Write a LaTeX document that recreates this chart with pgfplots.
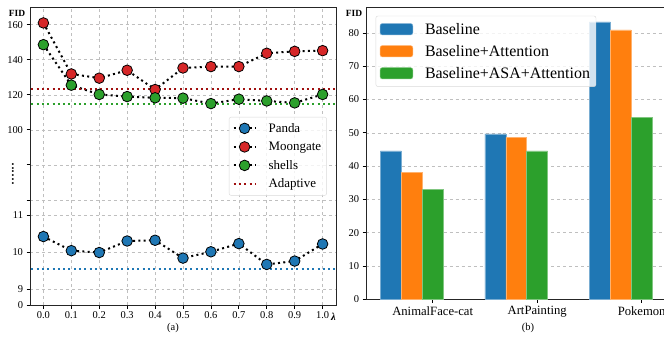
\documentclass[border=0pt]{standalone}
\usepackage{pgfplots}
\pgfplotsset{compat=1.18}
\usepackage{fontspec}
\setmainfont{Liberation Serif}
\definecolor{c0}{HTML}{1F77B4}
\definecolor{c1}{HTML}{FF7F0E}
\definecolor{c2}{HTML}{2CA02C}
\definecolor{c3}{HTML}{D62728}
\definecolor{dred}{HTML}{A01010}
\begin{document}
\begin{tikzpicture}
\path[use as bounding box] (0,0) rectangle (664bp,337bp);
% ---------------- left chart ----------------
\begin{axis}[
  at={(30bp,32bp)}, anchor=south west,
  width=306bp, height=298bp, scale only axis,
  xmin=-0.048, xmax=1.048, ymin=0, ymax=170.09,
  y coord trafo/.code={\pgfmathparse{ifthenelse(#1<5,#1*15.7/9,ifthenelse(#1<50,15.7+(#1-9)*37.2,175.3+(#1-100)*1.755))}},
  xtick={0,0.1,0.2,0.3,0.4,0.5,0.6,0.7,0.8,0.9,1},
  xticklabels={0.0,0.1,0.2,0.3,0.4,0.5,0.6,0.7,0.8,0.9,1.0},
  ytick={0,9,10,11,11.4,80.06,100,120,140,160},
  yticklabels={0,9,10,11,,,100,120,140,160},
  grid=major, grid style={dashed, black!25, line width=0.6bp},
  axis line style={line width=0.8bp, black!85},
  tick align=outside, xtick pos=bottom, ytick pos=left,
  major tick length=3.5bp, tick style={black, line width=0.8bp},
  ticklabel style={font=\fontsize{10.5}{12}\selectfont},
  legend style={at={(0.650,0.631)}, anchor=north west, draw=black!15, rounded corners=2bp,
    fill=white, fill opacity=0.8, text opacity=1, font=\fontsize{13}{15}\selectfont,
    column sep=10bp, row sep=4.3bp, inner xsep=3.5bp, inner ysep=4bp},
  legend cell align=left,
  legend image code/.code={\draw[#1,mark repeat=2,mark phase=2,opacity=1] plot coordinates {(0bp,0bp)(11bp,0bp)(22bp,0bp)};},
  clip=true,
]
\addplot[black, line width=2bp, dash pattern=on 2bp off 3.3bp, mark=*, mark size=5.3bp,
  mark options={solid, fill=c0, draw=black, line width=0.8bp}] coordinates {
 (0,10.42) (0.1,10.04) (0.2,9.99) (0.3,10.30) (0.4,10.32) (0.5,9.84) (0.6,10.01) (0.7,10.23) (0.8,9.67) (0.9,9.76) (1,10.22)};
\addlegendentry{Panda}
\addplot[black, line width=2bp, dash pattern=on 2bp off 3.3bp, mark=*, mark size=5.3bp,
  mark options={solid, fill=c3, draw=black, line width=0.8bp}] coordinates {
 (0,161.0) (0.1,131.9) (0.2,129.5) (0.3,134.0) (0.4,123.0) (0.5,135.3) (0.6,136.1) (0.7,136.1) (0.8,143.7) (0.9,144.8) (1,145.2)};
\addlegendentry{Moongate}
\addplot[black, line width=2bp, dash pattern=on 2bp off 3.3bp, mark=*, mark size=5.3bp,
  mark options={solid, fill=c2, draw=black, line width=0.8bp}] coordinates {
 (0,148.6) (0.1,125.5) (0.2,120.2) (0.3,119.0) (0.4,118.3) (0.5,118.1) (0.6,115.0) (0.7,117.5) (0.8,116.5) (0.9,115.4) (1,120.2)};
\addlegendentry{shells}
\addplot[dred, line width=2bp, dash pattern=on 2bp off 3.3bp] coordinates {(-0.1,123.4) (1.1,123.4)};
\addlegendentry{Adaptive}
\addplot[c0, line width=2bp, dash pattern=on 2bp off 3.3bp, forget plot] coordinates {(-0.1,9.54) (1.1,9.54)};
\addplot[c2, line width=2bp, dash pattern=on 2bp off 3.3bp, forget plot] coordinates {(-0.1,114.6) (1.1,114.6)};
\end{axis}
% ---------------- right chart ----------------
\begin{axis}[
  at={(366bp,37.7bp)}, anchor=south west,
  width=299.7bp, height=292bp, scale only axis,
  xmin=-0.638, xmax=2.23, ymin=0, ymax=87.7,
  xtick={0,1,2}, xticklabels={AnimalFace-cat,ArtPainting,Pokemon},
  ytick={0,10,20,30,40,50,60,70,80},
  yticklabels={0,10,20,30,40,50,60,70,80},
  ymajorgrids, grid style={dashed, black!25, line width=0.6bp},
  axis line style={line width=0.8bp, black!85},
  tick align=outside, xtick pos=bottom, ytick pos=left,
  major tick length=3.5bp, tick style={black, line width=0.8bp},
  yticklabel style={font=\fontsize{10.5}{12}\selectfont},
  xticklabel style={font=\fontsize{12.7}{14}\selectfont},
  legend style={at={(0.0324,0.971)}, anchor=north west, draw=black!15, rounded corners=2bp,
    fill=white, fill opacity=0.8, text opacity=1, font=\fontsize{16}{18}\selectfont,
    column sep=10bp, row sep=5.5bp, inner xsep=4bp, inner ysep=5bp},
  legend cell align=left,
  legend image code/.code={\draw[#1,opacity=1] (0bp,-5.6bp) rectangle (32.6bp,5.6bp);},
]
\addplot[ybar, bar width=0.2, bar shift=-0.4, fill=c0, draw=c0!60!white, line width=0.5bp] coordinates {(0,44.6) (1,49.7) (2,83.3)};
\addlegendentry{Baseline}
\addplot[ybar, bar width=0.2, bar shift=-0.2, fill=c1, draw=c1!60!white, line width=0.5bp] coordinates {(0,38.1) (1,48.6) (2,80.9)};
\addlegendentry{Baseline+Attention}
\addplot[ybar, bar width=0.2, bar shift=0, fill=c2, draw=c2!60!white, line width=0.5bp] coordinates {(0,33.1) (1,44.6) (2,54.7)};
\addlegendentry{Baseline+ASA+Attention}
\end{axis}
% ---------------- text ----------------
\node[font=\bfseries\fontsize{9.5}{10}\selectfont] at (17bp,324bp) {FID};
\node[font=\bfseries\fontsize{9.5}{10}\selectfont] at (354bp,324bp) {FID};
\node[font=\fontsize{16}{16}\selectfont] at (13bp,163bp) {\rotatebox{90}{......}};
\node[font=\fontsize{10.5}{12}\selectfont] at (333.5bp,19.7bp) {\textbf{\textit{λ}}};
\node[font=\fontsize{10.5}{12}\selectfont] at (173bp,9bp) {(a)};
\node[font=\fontsize{10.5}{12}\selectfont] at (528bp,8.7bp) {(b)};
\end{tikzpicture}
\end{document}
